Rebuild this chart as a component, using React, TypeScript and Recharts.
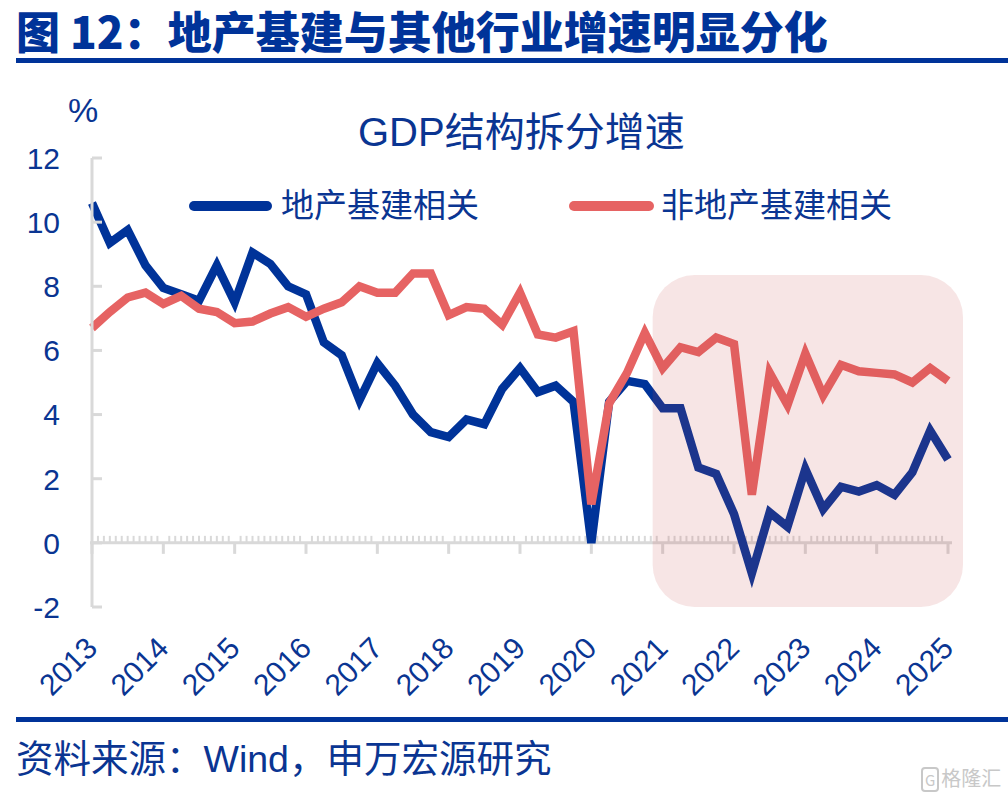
import React from 'react';
import { LineChart, Line, XAxis, YAxis, ReferenceLine, ReferenceArea } from 'recharts';

// 季度：2013Q1 - 2025Q1
const quarters = [
  '2013Q1', '2013Q2', '2013Q3', '2013Q4',
  '2014Q1', '2014Q2', '2014Q3', '2014Q4',
  '2015Q1', '2015Q2', '2015Q3', '2015Q4',
  '2016Q1', '2016Q2', '2016Q3', '2016Q4',
  '2017Q1', '2017Q2', '2017Q3', '2017Q4',
  '2018Q1', '2018Q2', '2018Q3', '2018Q4',
  '2019Q1', '2019Q2', '2019Q3', '2019Q4',
  '2020Q1', '2020Q2', '2020Q3', '2020Q4',
  '2021Q1', '2021Q2', '2021Q3', '2021Q4',
  '2022Q1', '2022Q2', '2022Q3', '2022Q4',
  '2023Q1', '2023Q2', '2023Q3', '2023Q4',
  '2024Q1', '2024Q2', '2024Q3', '2024Q4',
  '2025Q1',
];

// 地产基建相关
const propertyInfra = [
  10.6, 9.35, 9.75, 8.65, 7.95, 7.75, 7.55, 8.65, 7.5, 9.05, 8.7, 8.0, 7.75,
  6.25, 5.85, 4.45, 5.6, 4.9, 4.0, 3.45, 3.3, 3.85, 3.7, 4.8, 5.45,
  4.7, 4.9, 4.4, 0.0, 4.4, 5.05, 4.95, 4.2, 4.2, 2.35, 2.15, 0.9,
  -0.95, 0.95, 0.5, 2.3, 1.05, 1.75, 1.6, 1.8, 1.5, 2.2, 3.5, 2.6,
];

// 非地产基建相关
const nonPropertyInfra = [
  6.7, 7.2, 7.65, 7.8, 7.45, 7.7, 7.3, 7.2, 6.85, 6.9, 7.15, 7.35, 7.05,
  7.3, 7.5, 8.0, 7.8, 7.8, 8.4, 8.4, 7.1, 7.35, 7.3, 6.8, 7.8,
  6.5, 6.4, 6.6, 1.2, 4.35, 5.3, 6.55, 5.45, 6.1, 5.95, 6.4, 6.2,
  1.5, 5.3, 4.3, 5.9, 4.6, 5.55, 5.35, 5.3, 5.25, 5.0, 5.45, 5.05,
];

const yTicks = [-2, 0, 2, 4, 6, 8, 10, 12];
const yearTicks = quarters.filter((q) => q.endsWith('Q1'));

const BLUE = '#003399';
const RED = '#E66363';
const TEXT = '#0a3592';
const AXIS = '#d9d9d9';
const LATIN = '"Liberation Sans", Arial, "Noto Sans CJK SC", sans-serif';
const CJK = '"Liberation Sans", "Noto Sans CJK SC", sans-serif';

const Y_LABEL_GAP = 32;

const chartData = quarters.map((q, i) => ({
  q,
  a: propertyInfra[i],
  b: nonPropertyInfra[i],
}));

function YTick({ x, y, payload }: any) {
  return (
    <g>
      <line x1={x + Y_LABEL_GAP} x2={x + Y_LABEL_GAP + 10} y1={y} y2={y} stroke={AXIS} strokeWidth={3} />
      <text x={x} y={y} dy="0.36em" textAnchor="end" fontSize={30} fill={TEXT} fontFamily={LATIN}>
        {payload.value}
      </text>
    </g>
  );
}

function YearTick({ x, y, payload }: any) {
  const tx = x + 7;
  const ty = y + 43;
  return (
    <text
      x={tx}
      y={ty}
      transform={`rotate(-45 ${tx} ${ty})`}
      textAnchor="end"
      fontSize={30}
      fill={TEXT}
      fontFamily={LATIN}
    >
      {String(payload.value).slice(0, 4)}
    </text>
  );
}

// 0 轴：月度小刻度 + 年度大刻度
function ZeroAxis(props: any) {
  const { x1, x2, y1 } = props;
  const months = (quarters.length - 1) * 3;
  const step = (x2 - x1) / months;
  const marks = [];
  for (let m = 0; m <= months; m++) {
    const x = x1 + m * step;
    const major = m % 12 === 0;
    marks.push(
      <line
        key={m}
        x1={x}
        x2={x}
        y1={major ? y1 : y1 - 7}
        y2={major ? y1 + 11 : y1}
        stroke={AXIS}
        strokeWidth={major ? 3 : 2}
      />
    );
  }
  return (
    <g>
      <line x1={x1 - 2} x2={x2 + 4} y1={y1} y2={y1} stroke={AXIS} strokeWidth={3} />
      {marks}
    </g>
  );
}

function Highlight(props: any) {
  const { x, y, width, height } = props;
  const padL = 10;
  const padR = 15;
  return (
    <rect
      x={x - padL}
      y={y}
      width={width + padL + padR}
      height={height}
      rx={42}
      ry={42}
      fill="rgb(200,70,70)"
      fillOpacity={0.14}
    />
  );
}

export default function App() {
  return (
    <div style={{ position: 'absolute', left: 0, top: 0, width: 1008, height: 800, background: '#fff', fontFamily: CJK }}>
      <div
        style={{
          position: 'absolute',
          left: 16,
          top: 8,
          fontSize: 44,
          lineHeight: 1,
          fontWeight: 900,
          color: BLUE,
          fontFamily: '"Noto Sans CJK SC", sans-serif',
          whiteSpace: 'nowrap',
        }}
      >
        图 12：地产基建与其他行业增速明显分化
      </div>
      <div style={{ position: 'absolute', left: 16, top: 58, width: 992, height: 5, background: BLUE }} />

      <div style={{ position: 'absolute', left: 68, top: 93, fontSize: 34, lineHeight: 1, color: TEXT, fontFamily: LATIN }}>%</div>
      <div
        style={{
          position: 'absolute',
          left: 358,
          top: 112,
          fontSize: 40,
          lineHeight: 1,
          color: TEXT,
          whiteSpace: 'nowrap',
        }}
      >
        GDP结构拆分增速
      </div>

      <div style={{ position: 'absolute', left: 189, top: 201, width: 83, height: 10, borderRadius: 5, background: BLUE }} />
      <div style={{ position: 'absolute', left: 281, top: 189, fontSize: 33, lineHeight: 1, color: TEXT, whiteSpace: 'nowrap' }}>
        地产基建相关
      </div>
      <div style={{ position: 'absolute', left: 569, top: 201, width: 85, height: 10, borderRadius: 5, background: RED }} />
      <div style={{ position: 'absolute', left: 661, top: 189, fontSize: 33, lineHeight: 1, color: TEXT, whiteSpace: 'nowrap' }}>
        非地产基建相关
      </div>

      <div style={{ position: 'absolute', left: 0, top: 0 }}>
        <LineChart width={1008} height={800} data={chartData} margin={{ top: 158, right: 60, bottom: 133, left: 32 }}>
          <XAxis
            dataKey="q"
            ticks={yearTicks}
            interval={0}
            axisLine={false}
            tickLine={false}
            tickSize={0}
            tickMargin={0}
            height={60}
            tick={<YearTick />}
          />
          <YAxis
            domain={[-2, 12]}
            ticks={yTicks}
            interval={0}
            width={60}
            axisLine={{ stroke: AXIS, strokeWidth: 3 }}
            tickLine={false}
            tickSize={0}
            tickMargin={Y_LABEL_GAP}
            tick={<YTick />}
          />
          <ReferenceLine y={0} shape={<ZeroAxis />} />
          <Line
            dataKey="a"
            name="地产基建相关"
            stroke={BLUE}
            strokeWidth={8.5}
            dot={false}
            activeDot={false}
            isAnimationActive={false}
          />
          <Line
            dataKey="b"
            name="非地产基建相关"
            stroke={RED}
            strokeWidth={8.5}
            dot={false}
            activeDot={false}
            isAnimationActive={false}
          />
          <ReferenceArea
            x1={quarters[32]}
            x2={quarters[48]}
            y1={-2}
            y2={8.35}
            shape={<Highlight />}
            zIndex={1000}
          />
        </LineChart>
      </div>

      <div style={{ position: 'absolute', left: 16, top: 717, width: 992, height: 5, background: BLUE }} />
      <div style={{ position: 'absolute', left: 16, top: 741, fontSize: 37.5, lineHeight: 1, color: TEXT, whiteSpace: 'nowrap' }}>
        资料来源：Wind，申万宏源研究
      </div>
      <div
        style={{
          position: 'absolute',
          left: 921,
          top: 768,
          fontSize: 20,
          lineHeight: 1,
          color: '#c8c8c8',
          whiteSpace: 'nowrap',
          fontFamily: '"Noto Sans CJK SC", sans-serif',
        }}
      >
        <span style={{ border: '2px solid #c8c8c8', borderRadius: 4, padding: '0 2px', marginRight: 2, fontSize: 15 }}>G</span>
        格隆汇
      </div>
    </div>
  );
}
